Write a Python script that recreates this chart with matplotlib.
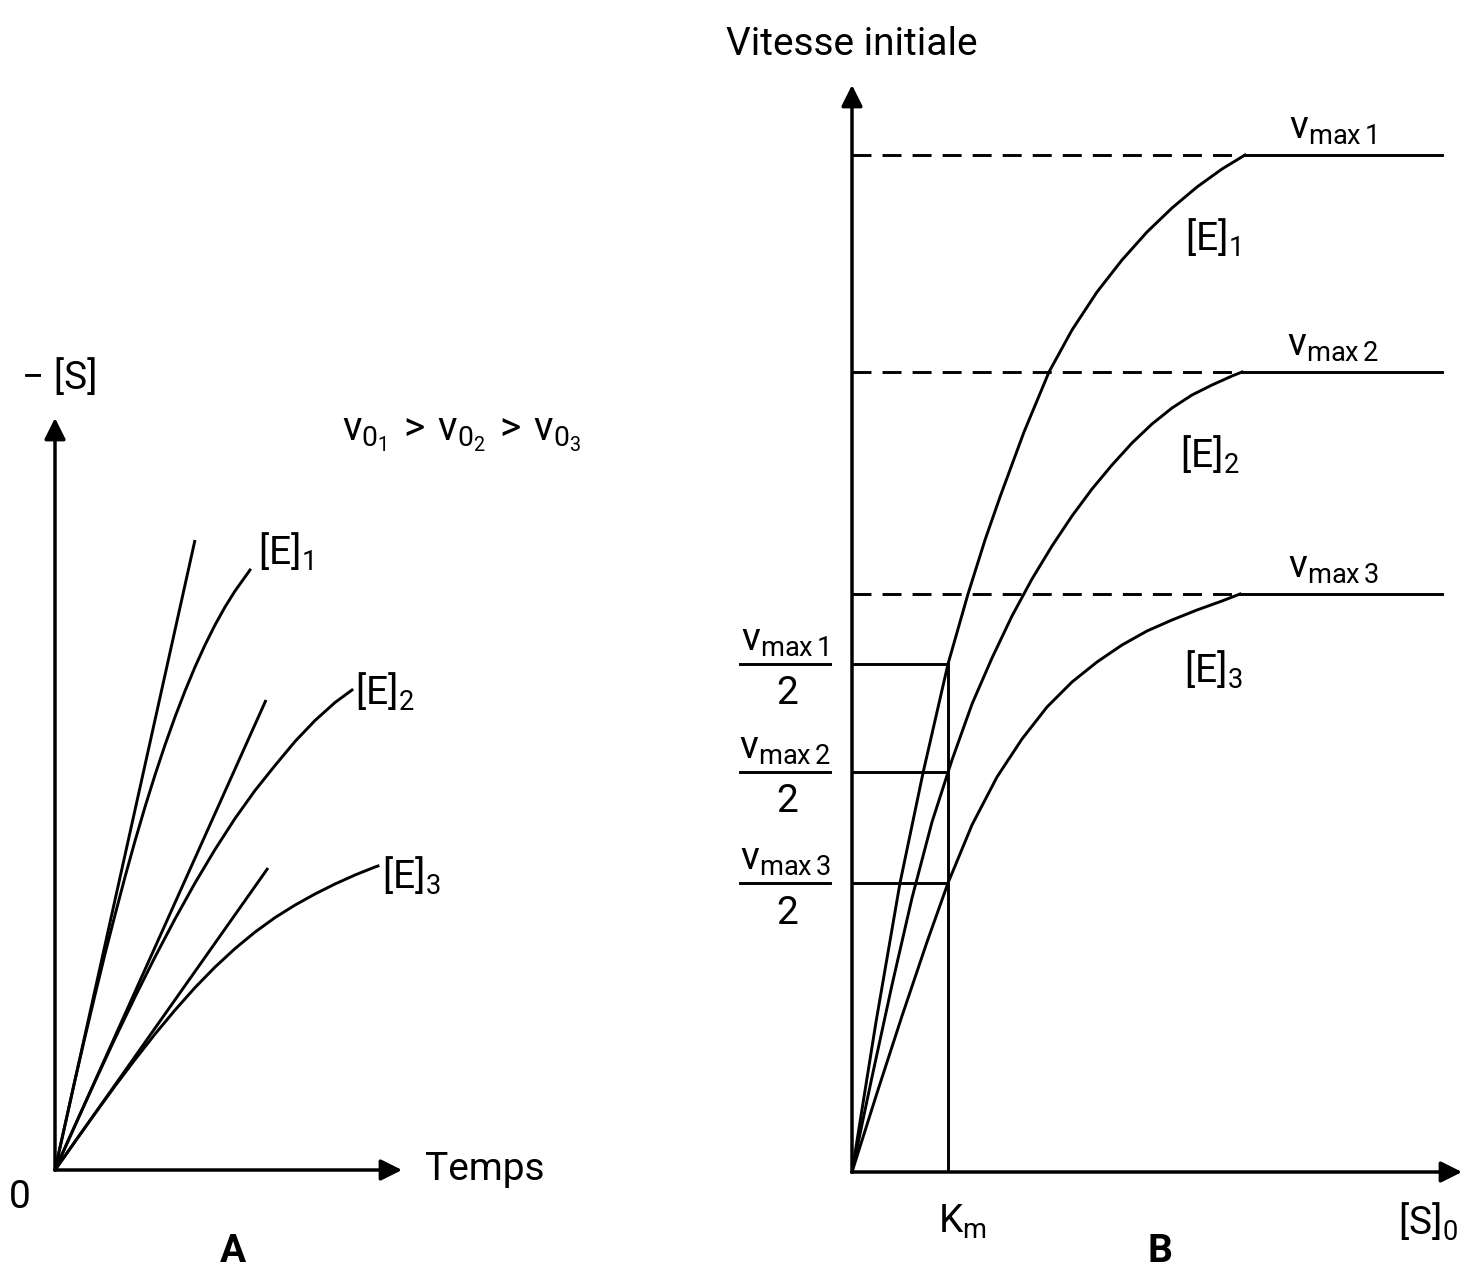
import matplotlib
matplotlib.use("Agg")
import matplotlib.pyplot as plt

# ---- Panel A: product formed vs time, with initial-rate tangents ----
# units: 1 unit = 10 px, origin at the axis corner
a_tangent_ends = [(14.0, 63.0), (21.1, 47.0), (21.3, 30.2)]
a_curve_t = [
    [0, 1, 2, 3, 4, 5, 6, 7, 8, 9, 10, 11, 12, 13, 14, 15, 16, 17, 18, 19, 19.5],
    [0, 2, 4, 6, 8, 10, 12, 14, 16, 18, 20, 22, 24, 26, 28, 29.7],
    [0, 2, 4, 6, 8, 10, 12, 14, 16, 18, 20, 22, 24, 26, 28, 30, 32, 32.3],
]
a_curve_s = [
    [0, 4.5, 9.0, 13.3, 17.5, 21.6, 25.5, 29.3, 32.9, 36.3, 39.5,
     42.5, 45.3, 47.9, 50.3, 52.5, 54.5, 56.3, 57.9, 59.3, 60.0],
    [0, 4.45, 8.85, 13.15, 17.3, 21.3, 25.1, 28.7, 32.05, 35.15, 37.95,
     40.45, 42.85, 44.95, 46.75, 48.0],
    [0, 2.84, 5.64, 8.39, 11.04, 13.59, 15.99, 18.24, 20.29, 22.14, 23.79,
     25.24, 26.49, 27.6, 28.6, 29.5, 30.3, 30.4],
]
e_labels = [r"$\mathregular{[E]_1}$", r"$\mathregular{[E]_2}$", r"$\mathregular{[E]_3}$"]

# ---- Panel B: initial rate vs substrate concentration ----
# units: 1 unit = 100 px
vmax = [10.17, 8.0, 5.78]
km = 0.96
x_end = 5.9
b_curve_s = [
    [0, 0.24, 0.48, 0.71, 0.96, 1.16, 1.33, 1.48, 1.72, 1.97, 2.2, 2.45,
     2.7, 2.95, 3.2, 3.45, 3.7, 3.93],
    [0, 0.2, 0.4, 0.6, 0.8, 1.0, 1.2, 1.4, 1.6, 1.8, 2.0, 2.2, 2.4, 2.6,
     2.8, 3.0, 3.2, 3.4, 3.6, 3.8, 3.9],
    [0, 0.25, 0.5, 0.75, 0.96, 1.2, 1.45, 1.7, 1.95, 2.2, 2.45, 2.7, 2.95,
     3.2, 3.45, 3.7, 3.88],
]
b_curve_v = [
    [0, 1.5, 2.89, 3.99, 5.08, 5.78, 6.32, 6.75, 7.4, 8.0, 8.42, 8.8,
     9.12, 9.4, 9.64, 9.85, 10.03, 10.17],
    [0, 0.95, 1.87, 2.74, 3.5, 4.12, 4.68, 5.14, 5.56, 5.93, 6.26, 6.56,
     6.83, 7.07, 7.29, 7.48, 7.64, 7.77, 7.87, 7.96, 8.0],
    [0, 0.79, 1.56, 2.3, 2.89, 3.47, 3.95, 4.33, 4.65, 4.9, 5.1, 5.27,
     5.41, 5.52, 5.62, 5.71, 5.78],
]
vmax_labels = [r"$\mathregular{v_{max\,1}}$", r"$\mathregular{v_{max\,2}}$",
               r"$\mathregular{v_{max\,3}}$"]

plt.rcParams["font.family"] = ["Roboto", "DejaVu Sans"]
plt.rcParams["mathtext.fontset"] = "custom"
plt.rcParams["mathtext.rm"] = "Roboto"
plt.rcParams["mathtext.it"] = "Roboto"

W, H = 1464, 1271
fig = plt.figure(figsize=(W / 100, H / 100), dpi=100)
FS = 28
LW = 2.1

arrow = dict(arrowstyle="-|>", mutation_scale=32, lw=2.5, color="black",
             shrinkA=0, shrinkB=0)

# ---------------- Panel A ----------------
axA = fig.add_axes([55 / W, (H - 1170) / H, 347 / W, 752 / H])
axA.set_xlim(0, 34.7)
axA.set_ylim(0, 75.2)
axA.axis("off")
axA.annotate("", xy=(34.7, 0), xytext=(0, 0), arrowprops=arrow, annotation_clip=False)
axA.annotate("", xy=(0, 75.2), xytext=(0, 0), arrowprops=arrow, annotation_clip=False)

for (te, se), ts, ss in zip(a_tangent_ends, a_curve_t, a_curve_s):
    axA.plot([0, te], [0, se], color="black", lw=LW, clip_on=False, solid_capstyle="butt")
    axA.plot(ts, ss, color="black", lw=LW, clip_on=False)

a_label_pos = [(23.0, 61.8), (33.0, 47.8), (35.6, 29.4)]
for lab, (x, y) in zip(e_labels, a_label_pos):
    axA.text(x, y, lab, fontsize=FS, ha="center", va="center")

axA.text(0.5, 79.2, "\u2212 [S]", fontsize=FS, ha="center", va="center")
axA.text(40.7, 73.6, r"$\mathregular{v_{0_1}\, >\, v_{0_2}\, >\, v_{0_3}}$",
         fontsize=FS + 1, ha="center", va="center")
axA.text(-3.5, -2.7, "0", fontsize=FS, ha="center", va="center")
axA.text(43.0, 0.0, "Temps", fontsize=FS, ha="center", va="center")
axA.text(17.8, -8.2, "A", fontsize=FS, ha="center", va="center", fontweight="bold")

# ---------------- Panel B ----------------
axB = fig.add_axes([852 / W, (H - 1172) / H, 610 / W, 1087 / H])
axB.set_xlim(0, 6.1)
axB.set_ylim(0, 10.87)
axB.axis("off")
axB.annotate("", xy=(6.1, 0), xytext=(0, 0), arrowprops=arrow, annotation_clip=False)
axB.annotate("", xy=(0, 10.87), xytext=(0, 0), arrowprops=arrow, annotation_clip=False)

for vm, xs, vs in zip(vmax, b_curve_s, b_curve_v):
    # dashed asymptote up to where the curve joins it, solid plateau after
    axB.plot([0, xs[-1]], [vm, vm], color="black", lw=LW, dashes=(6.5, 3.8))
    axB.plot(xs, vs, color="black", lw=LW, clip_on=False)
    axB.plot([xs[-1], x_end], [vm, vm], color="black", lw=LW)
    # half-vmax guide
    axB.plot([0, km], [vm / 2, vm / 2], color="black", lw=LW)

axB.plot([km, km], [0, vmax[0] / 2], color="black", lw=LW)

for vm, lab in zip(vmax, vmax_labels):
    axB.text(4.81, vm + 0.26, lab, fontsize=FS, ha="center", va="center")
    axB.text(-0.67, vm / 2 + 0.23, lab, fontsize=FS, ha="center", va="center")
    axB.plot([-1.12, -0.22], [vm / 2, vm / 2], color="black", lw=LW, clip_on=False)
    axB.text(-0.65, vm / 2 - 0.3, "2", fontsize=FS, ha="center", va="center")

b_label_pos = [(3.6, 9.34), (3.58, 7.17), (3.61, 5.02)]
for lab, (x, y) in zip(e_labels, b_label_pos):
    axB.text(x, y, lab, fontsize=FS, ha="center", va="center")

axB.text(0.0, 11.27, "Vitesse initiale", fontsize=FS, ha="center", va="center")
axB.text(1.1, -0.5, r"$\mathregular{K_m}$", fontsize=FS, ha="center", va="center")
axB.text(6.06, -0.5, r"$\mathregular{[S]_0}$", fontsize=FS, ha="right", va="center")
axB.text(3.08, -0.8, "B", fontsize=FS, ha="center", va="center", fontweight="bold")

fig.savefig("out.png", dpi=100)
